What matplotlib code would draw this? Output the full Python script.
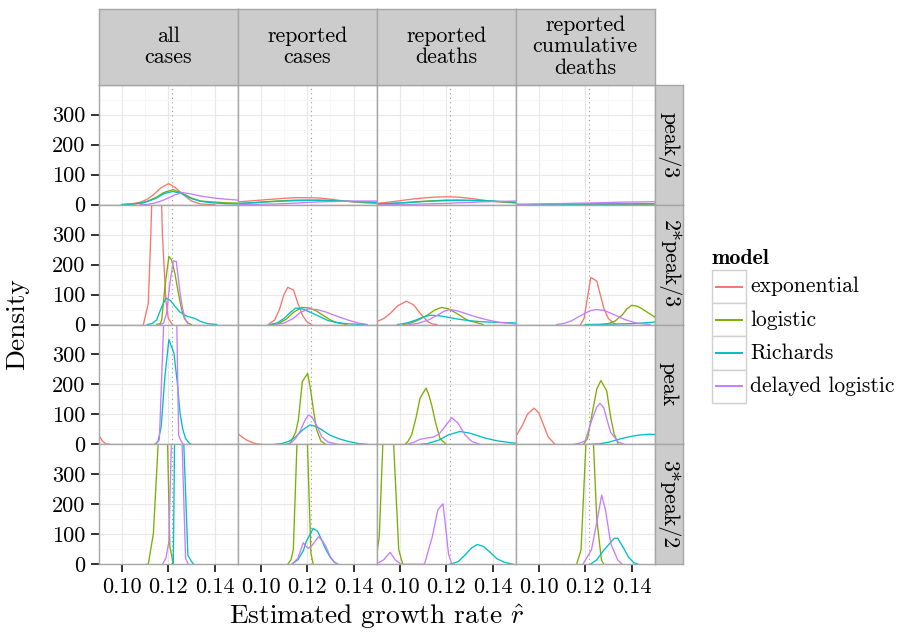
import matplotlib
matplotlib.use("Agg")
import matplotlib.pyplot as plt
from matplotlib.patches import Rectangle
from matplotlib.lines import Line2D

plt.rcParams["font.family"] = ["cmr10", "DejaVu Serif"]
plt.rcParams["mathtext.fontset"] = "cm"
plt.rcParams["axes.formatter.use_mathtext"] = True

# facet labels and models
col_labels = ["all\ncases", "reported\ncases", "reported\ndeaths", "reported\ncumulative\ndeaths"]
row_labels = ["peak/3", "2*peak/3", "peak", "3*peak/2"]
models = ["exponential", "logistic", "Richards", "delayed logistic"]
colors = ["#F8766D", "#7CAE00", "#00BFC4", "#C77CFF"]
true_r = 0.1216

x_ticks = [0.10, 0.12, 0.14]
x_tick_labels = ["0.10", "0.12", "0.14"]
y_ticks = [0, 100, 200, 300]
y_tick_labels = ["0", "100", "200", "300"]

grid13 = [0.090, 0.095, 0.100, 0.105, 0.110, 0.115, 0.120, 0.125, 0.130, 0.135, 0.140, 0.145, 0.150]

# density curves: model -> (r values, density values)
# row peak/3
p3_all = {
    "exponential": ([0.100, 0.104, 0.108, 0.111, 0.114, 0.117, 0.1202, 0.123, 0.1264, 0.130, 0.134, 0.140],
                    [0, 2, 8, 18, 35, 57, 70, 57, 34, 12, 2, 0]),
    "logistic": ([0.100, 0.105, 0.109, 0.1113, 0.115, 0.118, 0.1221, 0.126, 0.130, 0.134, 0.139, 0.145, 0.150],
                 [0, 2, 6, 12, 25, 40, 50, 38, 22, 12, 9, 6, 5]),
    "Richards": ([0.100, 0.105, 0.109, 0.1113, 0.115, 0.118, 0.122, 0.126, 0.130, 0.134, 0.139, 0.145, 0.150],
                 [0, 2, 6, 11, 22, 36, 44, 36, 20, 11, 6, 3, 2]),
    "delayed logistic": ([0.108, 0.1113, 0.114, 0.117, 0.120, 0.123, 0.126, 0.129, 0.133, 0.137, 0.141, 0.145, 0.150],
                         [0, 1, 5, 12, 22, 33, 40, 37, 30, 25, 21, 18, 15]),
}
p3_cases = {
    "exponential": (grid13, [9, 12, 15, 18, 21, 23, 23, 22, 18, 13, 9, 6, 4]),
    "logistic": (grid13, [3, 5, 8, 11, 13, 15, 15, 15, 14, 12, 10, 8, 7]),
    "Richards": (grid13, [4, 6, 8, 10, 12, 13, 14, 14, 13, 12, 10, 9, 7]),
    "delayed logistic": (grid13, [0, 1, 1, 2, 3, 5, 7, 9, 10, 11, 12, 12, 12]),
}
p3_deaths = {
    "exponential": (grid13, [4, 8, 13, 18, 22, 25, 26, 25, 21, 16, 11, 8, 5]),
    "logistic": (grid13, [1, 3, 5, 8, 11, 13, 15, 15, 14, 13, 11, 9, 7]),
    "Richards": (grid13, [2, 4, 6, 8, 10, 12, 13, 14, 14, 13, 12, 10, 8]),
    "delayed logistic": (grid13, [0, 0, 1, 1, 2, 3, 4, 6, 7, 9, 10, 11, 12]),
}
p3_cum = {
    "exponential": ([0.090, 0.140, 0.145, 0.150], [0, 0, 1, 3]),
    "logistic": (grid13, [0, 0, 0, 1, 1, 1, 1, 2, 2, 2, 2, 2, 2]),
    "Richards": (grid13, [0, 0, 1, 1, 1, 1, 2, 2, 2, 2, 2, 3, 3]),
    "delayed logistic": (grid13, [1, 1.5, 2, 3, 3.5, 4.5, 5, 6, 7, 8, 8.5, 9, 10]),
}
# row 2*peak/3
p23_all = {
    "exponential": ([0.1093, 0.1114, 0.1125, 0.1136, 0.1165, 0.1175, 0.1190, 0.1200, 0.1218],
                    [0, 71, 300, 600, 600, 300, 80, 21, 0]),
    "logistic": ([0.1150, 0.1165, 0.1172, 0.1186, 0.1203, 0.1215, 0.1229, 0.1244, 0.1258, 0.127, 0.1285, 0.130],
                 [0, 3, 15, 126, 227, 215, 170, 104, 50, 20, 5, 0]),
    "Richards": ([0.111, 0.113, 0.115, 0.117, 0.119, 0.121, 0.123, 0.125, 0.128, 0.1316, 0.134, 0.137, 0.141],
                 [0, 3, 15, 55, 88, 80, 60, 42, 28, 20, 10, 3, 0]),
    "delayed logistic": ([0.1165, 0.118, 0.1193, 0.1207, 0.1222, 0.1235, 0.1251, 0.1263, 0.1273, 0.1285],
                         [0, 5, 38, 135, 212, 210, 105, 50, 20, 2]),
}
p23_cases = {
    "exponential": ([0.1032, 0.106, 0.108, 0.110, 0.1116, 0.1141, 0.116, 0.118, 0.120, 0.122],
                    [0, 15, 50, 100, 124, 115, 70, 30, 8, 0]),
    "logistic": ([0.105, 0.108, 0.111, 0.114, 0.1176, 0.121, 0.124, 0.127, 0.130, 0.133, 0.137],
                 [0, 5, 18, 40, 57, 55, 45, 30, 15, 6, 0]),
    "Richards": ([0.104, 0.107, 0.110, 0.113, 0.115, 0.118, 0.121, 0.125, 0.129, 0.133, 0.138, 0.145],
                 [0, 5, 20, 42, 55, 52, 42, 28, 13, 6, 2, 0]),
    "delayed logistic": ([0.106, 0.110, 0.114, 0.117, 0.1205, 0.124, 0.128, 0.132, 0.1376, 0.142, 0.146],
                         [0, 5, 20, 40, 52, 50, 42, 30, 15, 5, 0]),
}
p23_deaths = {
    "exponential": ([0.090, 0.093, 0.096, 0.099, 0.1029, 0.106, 0.109, 0.112, 0.114, 0.116],
                    [9, 20, 38, 62, 78, 65, 35, 10, 2, 0]),
    "logistic": ([0.1015, 0.104, 0.108, 0.112, 0.115, 0.118, 0.121, 0.125, 0.129, 0.1359],
                 [0, 3, 15, 32, 48, 57, 52, 35, 15, 0]),
    "Richards": ([0.099, 0.103, 0.107, 0.110, 0.1132, 0.117, 0.121, 0.125, 0.1308, 0.136, 0.142, 0.150],
                 [0, 5, 15, 25, 31, 29, 24, 18, 12, 9, 7, 5]),
    "delayed logistic": ([0.104, 0.108, 0.112, 0.116, 0.119, 0.1217, 0.125, 0.129, 0.133, 0.138, 0.143, 0.150],
                         [0, 4, 14, 30, 44, 50, 45, 35, 25, 15, 7, 2]),
}
p23_cum = {
    "exponential": ([0.118, 0.1195, 0.121, 0.1224, 0.1250, 0.1265, 0.128, 0.1300, 0.1329],
                    [0, 20, 90, 157, 145, 100, 55, 20, 0]),
    "logistic": ([0.127, 0.130, 0.133, 0.136, 0.138, 0.140, 0.142, 0.144, 0.146, 0.148, 0.150],
                 [0, 3, 12, 32, 52, 64, 62, 55, 45, 35, 25]),
    "Richards": ([0.120, 0.130, 0.140, 0.145, 0.150], [0, 1, 3, 5, 8]),
    "delayed logistic": ([0.1077, 0.111, 0.114, 0.117, 0.120, 0.1225, 0.125, 0.128, 0.131, 0.134, 0.138, 0.142, 0.148],
                         [0, 4, 12, 25, 38, 47, 50, 47, 38, 27, 14, 5, 0]),
}
# row peak
p1_all = {
    "exponential": ([0.090, 0.0915, 0.093, 0.095], [32, 12, 2, 0]),
    "logistic": ([], []),
    "Richards": ([0.1143, 0.1156, 0.1170, 0.1185, 0.1203, 0.1225, 0.1240, 0.1251, 0.1263, 0.1275, 0.1290, 0.130],
                 [0, 10, 60, 220, 350, 304, 200, 105, 50, 20, 5, 0]),
    "delayed logistic": ([0.1140, 0.1157, 0.1162, 0.1185, 0.1205, 0.1235, 0.1245, 0.1253, 0.1265],
                         [0, 10, 17, 500, 700, 500, 30, 15, 0]),
}
p1_cases = {
    "exponential": ([0.090, 0.092, 0.094, 0.096, 0.098, 0.1004], [37, 24, 14, 7, 2, 0]),
    "logistic": ([0.1105, 0.1126, 0.1150, 0.1162, 0.1179, 0.1202, 0.1215, 0.1226, 0.1240, 0.1260, 0.128],
                 [0, 3, 40, 82, 210, 237, 180, 120, 50, 10, 0]),
    "Richards": ([0.106, 0.109, 0.112, 0.115, 0.118, 0.1212, 0.124, 0.127, 0.130, 0.134, 0.1377, 0.142, 0.146],
                 [0, 3, 10, 25, 48, 65, 60, 45, 30, 18, 10, 3, 0]),
    "delayed logistic": ([0.111, 0.113, 0.115, 0.117, 0.119, 0.1205, 0.122, 0.124, 0.1263, 0.129, 0.1334],
                         [0, 5, 20, 45, 80, 98, 92, 65, 25, 8, 0]),
}
p1_deaths = {
    "exponential": ([], []),
    "logistic": ([0.1022, 0.1035, 0.1051, 0.107, 0.1087, 0.1113, 0.1125, 0.1137, 0.1155, 0.1173, 0.120],
                 [0, 10, 32, 90, 154, 188, 165, 132, 70, 20, 0]),
    "Richards": ([0.1087, 0.112, 0.117, 0.121, 0.1259, 0.130, 0.134, 0.1374, 0.142, 0.1475, 0.150],
                 [0, 3, 15, 32, 43, 38, 28, 20, 12, 6, 4]),
    "delayed logistic": ([0.1029, 0.106, 0.1087, 0.112, 0.1144, 0.117, 0.120, 0.1224, 0.125, 0.1281, 0.131, 0.1346],
                         [0, 7, 17, 22, 24, 35, 65, 89, 72, 32, 10, 0]),
}
p1_cum = {
    "exponential": ([0.090, 0.093, 0.095, 0.0979, 0.100, 0.102, 0.104, 0.107],
                    [26, 65, 100, 121, 105, 65, 25, 0]),
    "logistic": ([0.1192, 0.1210, 0.1228, 0.1250, 0.1268, 0.1293, 0.1310, 0.1325, 0.1343],
                 [0, 20, 95, 185, 213, 178, 90, 35, 0]),
    "Richards": ([0.122, 0.126, 0.130, 0.1336, 0.137, 0.140, 0.143, 0.146, 0.148, 0.150],
                 [0, 2, 7, 15, 22, 27, 31, 33, 34, 33]),
    "delayed logistic": ([0.115, 0.1175, 0.120, 0.1228, 0.1250, 0.1264, 0.1280, 0.1295, 0.131, 0.1343, 0.137],
                         [0, 4, 12, 80, 125, 137, 122, 80, 40, 8, 0]),
}
# row 3*peak/2
p32_all = {
    "exponential": ([], []),
    "logistic": ([0.1105, 0.1114, 0.1136, 0.1160, 0.1196, 0.1207, 0.1222], [0, 0, 103, 450, 450, 60, 0]),
    "Richards": ([0.1215, 0.1222, 0.1228, 0.1265, 0.1285, 0.1300, 0.1310], [0, 5, 450, 450, 30, 10, 0]),
    "delayed logistic": ([0.1175, 0.119, 0.1203, 0.1215, 0.1258, 0.1275, 0.1287], [0, 20, 76, 450, 450, 20, 0]),
}
p32_cases = {
    "exponential": ([], []),
    "logistic": ([0.1116, 0.1130, 0.1140, 0.1158, 0.1199, 0.1216, 0.1226], [0, 15, 48, 450, 450, 37, 0]),
    "Richards": ([0.1133, 0.116, 0.1183, 0.1196, 0.1226, 0.1245, 0.1262, 0.128, 0.1298, 0.1315, 0.1334],
                 [0, 15, 45, 76, 120, 110, 82, 50, 25, 8, 0]),
    "delayed logistic": ([0.1133, 0.1160, 0.1183, 0.1195, 0.1205, 0.122, 0.1248, 0.1265, 0.128, 0.1300, 0.1317, 0.133],
                         [0, 20, 72, 60, 53, 62, 92, 80, 60, 25, 8, 0]),
}
p32_deaths = {
    "exponential": ([], []),
    "logistic": ([0.090, 0.0911, 0.0929, 0.0970, 0.0995, 0.1005, 0.1013], [31, 92, 450, 450, 50, 20, 0]),
    "Richards": ([0.1215, 0.125, 0.128, 0.131, 0.1334, 0.136, 0.139, 0.1418, 0.145, 0.149],
                 [0, 8, 30, 55, 66, 60, 40, 19, 7, 0]),
    "delayed logistic": ([0.090, 0.093, 0.0958, 0.098, 0.1005, 0.1106, 0.1140, 0.1164, 0.1186, 0.1194, 0.1210, 0.1224],
                         [2, 15, 40, 15, 0, 0, 92, 182, 202, 150, 35, 0]),
}
p32_cum = {
    "exponential": ([], []),
    "logistic": ([0.1163, 0.1182, 0.1206, 0.1233, 0.1250, 0.1270, 0.1280], [0, 48, 450, 450, 150, 15, 0]),
    "Richards": ([0.1222, 0.125, 0.1281, 0.1326, 0.134, 0.1365, 0.1386, 0.141, 0.143],
                 [0, 15, 48, 87, 87, 55, 25, 5, 0]),
    "delayed logistic": ([0.119, 0.1227, 0.1252, 0.1271, 0.1288, 0.131, 0.134, 0.136],
                         [0, 48, 148, 231, 180, 70, 15, 0]),
}

panels = [
    [p3_all, p3_cases, p3_deaths, p3_cum],
    [p23_all, p23_cases, p23_deaths, p23_cum],
    [p1_all, p1_cases, p1_deaths, p1_cum],
    [p32_all, p32_cases, p32_deaths, p32_cum],
]

W, H = 900, 633
fig = plt.figure(figsize=(W / 100, H / 100), dpi=100)

left0, top0 = 98.7, 84.7
pw, ph = 139.0, 119.9
strip_top = 8.5
strip_w = 28.0
border = "#A6A6A6"
strip_bg = "#CCCCCC"


def fx(px):
    return px / W


def fy(py):
    return 1 - py / H


for r in range(4):
    for c in range(4):
        x0 = left0 + c * pw
        y0 = top0 + (r + 1) * ph
        ax = fig.add_axes([fx(x0), fy(y0), pw / W, ph / H])
        ax.set_xlim(0.09, 0.15)
        ax.set_ylim(0, 400)
        ax.set_xticks([0.09, 0.11, 0.13, 0.15], minor=True)
        ax.set_yticks([50, 150, 250, 350], minor=True)
        ax.set_xticks(x_ticks)
        ax.set_yticks(y_ticks)
        ax.grid(True, which="major", color="#E8E8E8", linewidth=0.8)
        ax.grid(True, which="minor", color="#F6F6F6", linewidth=0.6)
        ax.set_axisbelow(True)
        for s in ax.spines.values():
            s.set_color(border)
            s.set_linewidth(1.0)
        ax.axvline(true_r, color="#9A9A9A", linewidth=0.8, linestyle=(0, (1, 3)), zorder=1)
        for m, col in zip(models, colors):
            xs, ys = panels[r][c][m]
            ax.plot(xs, ys, color=col, linewidth=0.95, zorder=2)
        ax.tick_params(which="minor", length=0)
        ax.tick_params(which="major", direction="out", length=5.8, width=1.3, color="#222222",
                       labelsize=16, pad=4)
        if c == 0:
            ax.set_yticklabels(y_tick_labels)
        else:
            ax.tick_params(axis="y", length=0, labelleft=False)
        if r == 3:
            ax.set_xticklabels(x_tick_labels)
        else:
            ax.tick_params(axis="x", length=0, labelbottom=False)

# top strips
for c, lab in enumerate(col_labels):
    x0 = left0 + c * pw
    sa = fig.add_axes([fx(x0), fy(top0), pw / W, (top0 - strip_top) / H])
    sa.set_facecolor(strip_bg)
    sa.set_xticks([])
    sa.set_yticks([])
    for s in sa.spines.values():
        s.set_color(border)
        s.set_linewidth(1.0)
    sa.text(0.5, 0.5, lab, ha="center", va="center", fontsize=15.8, linespacing=1.12,
            transform=sa.transAxes)

# right strips
for r, lab in enumerate(row_labels):
    y0 = top0 + (r + 1) * ph
    sa = fig.add_axes([fx(left0 + 4 * pw), fy(y0), strip_w / W, ph / H])
    sa.set_facecolor(strip_bg)
    sa.set_xticks([])
    sa.set_yticks([])
    for s in sa.spines.values():
        s.set_color(border)
        s.set_linewidth(1.0)
    sa.text(0.5, 0.5, lab, ha="center", va="center", fontsize=15.8, rotation=-90,
            transform=sa.transAxes)

# axis titles
fig.text(fx(left0 + 2 * pw), fy(617), r"Estimated growth rate $\hat{r}$", ha="center", va="center",
         fontsize=19.8)
fig.text(fx(17), fy(top0 + 2 * ph), "Density", ha="center", va="center", rotation=90, fontsize=19.8)

# legend
lg = fig.add_axes([0, 0, 1, 1], facecolor="none")
lg.set_xlim(0, W)
lg.set_ylim(H, 0)
lg.axis("off")
lg.text(712, 258, "model", ha="left", va="center", fontsize=15.8, family="cmb10")
key_top, key_h = 270.0, 33.2
for i, (m, col) in enumerate(zip(models, colors)):
    yt = key_top + i * key_h
    lg.add_patch(Rectangle((712.3, yt), 33.4, key_h, facecolor="white", edgecolor="#D0D0D0", linewidth=1.0))
    lg.add_line(Line2D([716, 742], [yt + key_h / 2, yt + key_h / 2], color=col, linewidth=1.4))
    lg.text(750, yt + key_h / 2, m, ha="left", va="center", fontsize=15.5)

fig.savefig("out.png", dpi=100)
